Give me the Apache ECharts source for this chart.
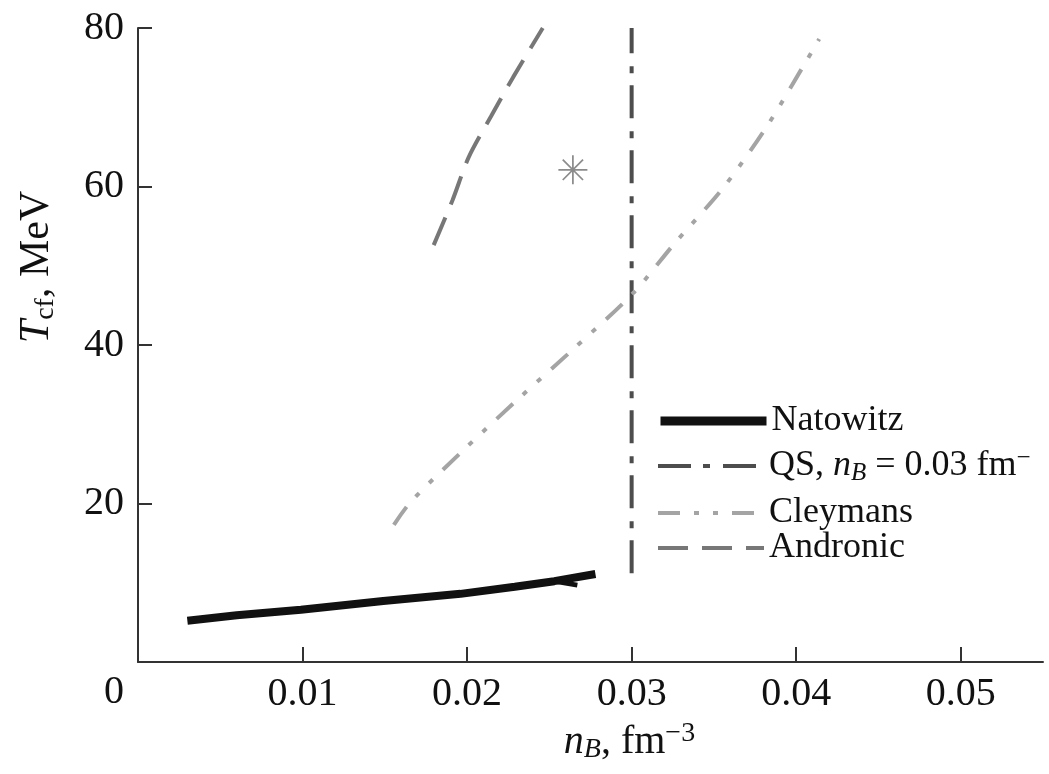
<!DOCTYPE html>
<html>
<head>
<meta charset="utf-8">
<script src="https://cdn.jsdelivr.net/npm/echarts@6/dist/echarts.min.js"></script>
<style>
html,body{margin:0;padding:0;background:#fff;}
#chart{width:1049px;height:774px;}
</style>
</head>
<body>
<div id="chart"></div>
<script>
// ---- data ----
var xTicks = [0.01, 0.02, 0.03, 0.04, 0.05];
var yTicks = [20, 40, 60, 80];
var natowitz = [[0.0030, 5.2], [0.0060, 5.9], [0.0099, 6.6], [0.0149, 7.7], [0.0196, 8.6], [0.0229, 9.5], [0.0253, 10.2], [0.0278, 11.1]];
var natowitzTail = [[0.0250, 10.3], [0.0267, 9.7]];
var qsLine = [[0.03, 11.2], [0.03, 80]];
var cleymans = [[0.01555, 17.3], [0.01657, 20.2], [0.01981, 26.8], [0.02306, 33.1], [0.02641, 39.4], [0.03007, 46.5], [0.0326, 52.8], [0.03555, 59.8], [0.03819, 67.5], [0.04052, 75.5], [0.0414, 78.6]];
var andronic = [[0.01797, 52.6], [0.01912, 58.3], [0.0201, 63.7], [0.02144, 68.8], [0.0228, 73.8], [0.0246, 80.0]];
var starPoint = [[0.02643, 62.1]];
var names = ['Natowitz', 'QS', 'Cleymans', 'Andronic'];

var serif = 'Liberation Serif';
var chart = echarts.init(document.getElementById('chart'));

var star = 'path://M47 0L53 0L53 100L47 100Z M0 47L100 47L100 53L0 53Z M12.9 17.1L17.1 12.9L87.1 82.9L82.9 87.1Z M82.9 12.9L87.1 17.1L17.1 87.1L12.9 82.9Z';

var richBase = {
  i: {fontFamily: serif, fontStyle: 'italic', fontSize: 36, color: '#111', lineHeight: 40},
  sub: {fontFamily: serif, fontStyle: 'italic', fontSize: 25, color: '#111', lineHeight: 25, verticalAlign: 'bottom'},
  sup: {fontFamily: serif, fontSize: 25, color: '#111', lineHeight: 25, verticalAlign: 'top'}
};

function legendFor(name, top, lineW) {
  return {
    data: [name],
    left: 656, top: top,
    padding: 0,
    itemWidth: 106, itemHeight: 12,
    itemGap: 5,
    selectedMode: false,
    lineStyle: {width: lineW},
    itemStyle: {opacity: 0},
    textStyle: {fontFamily: serif, fontSize: 36, color: '#111', lineHeight: 40, rich: richBase},
    formatter: function (n) {
      if (n === 'QS') return 'QS, {i|n}{sub|B} = 0.03 fm{sup|\u2212}';
      return n;
    }
  };
}

var option = {
  backgroundColor: '#fff',
  animation: false,
  grid: {left: 138, right: 6, top: 28, bottom: 112, containLabel: false},
  legend: [
    legendFor('Natowitz', 401, 9),
    legendFor('QS', 446, 4),
    legendFor('Cleymans', 493, 4),
    legendFor('Andronic', 528, 4)
  ],
  xAxis: {
    type: 'value', min: 0, max: 0.055,
    name: '{i|n}{sub|B}, fm{sup|\u22123}',
    nameLocation: 'middle', nameGap: 58,
    nameTextStyle: {
      fontFamily: serif, fontSize: 40, color: '#111', lineHeight: 44,
      padding: [0, 0, 0, 78],
      rich: {
        i: {fontFamily: serif, fontStyle: 'italic', fontSize: 40, color: '#111', lineHeight: 44},
        sub: {fontFamily: serif, fontStyle: 'italic', fontSize: 28, color: '#111', lineHeight: 28, verticalAlign: 'bottom'},
        sup: {fontFamily: serif, fontSize: 28, color: '#111', lineHeight: 28, verticalAlign: 'top'}
      }
    },
    axisLine: {show: true, lineStyle: {color: '#333', width: 2}},
    axisTick: {show: true, inside: true, length: 15, customValues: xTicks, lineStyle: {color: '#333', width: 2}},
    axisLabel: {customValues: xTicks, fontFamily: serif, fontSize: 40, color: '#111', margin: 12,
      formatter: function (v) { return v.toFixed(2); }},
    splitLine: {show: false}
  },
  yAxis: {
    type: 'value', min: 0, max: 80,
    name: '{i|T}{sub|cf}, MeV',
    nameLocation: 'middle', nameGap: 78, nameRotate: 90,
    nameTextStyle: {
      fontFamily: serif, fontSize: 42, color: '#111', lineHeight: 46,
      padding: [0, 0, 0, 156],
      rich: {
        i: {fontFamily: serif, fontStyle: 'italic', fontSize: 42, color: '#111', lineHeight: 46},
        sub: {fontFamily: serif, fontSize: 28, color: '#111', lineHeight: 28, verticalAlign: 'bottom'}
      }
    },
    axisLine: {show: true, lineStyle: {color: '#333', width: 2}},
    axisTick: {show: true, inside: true, length: 14, customValues: yTicks, lineStyle: {color: '#333', width: 2}},
    axisLabel: {customValues: yTicks, fontFamily: serif, fontSize: 40, color: '#111', margin: 14},
    splitLine: {show: false}
  },
  graphic: [{
    type: 'text', left: 104, top: 672,
    style: {text: '0', font: '40px "Liberation Serif"', fill: '#111'}
  }],
  series: [
    {name: 'Natowitz', type: 'line', data: natowitz, symbol: 'none', smooth: false,
      lineStyle: {color: '#111', width: 8}, itemStyle: {color: '#111'}, z: 5},
    {name: 'Natowitz', type: 'line', data: natowitzTail, symbol: 'none',
      lineStyle: {color: '#111', width: 5}, itemStyle: {color: '#111'}, z: 5},
    {name: 'QS', type: 'line', data: qsLine, symbol: 'none',
      lineStyle: {color: '#4d4d4d', width: 4, type: [33, 12, 7, 13]}, itemStyle: {color: '#4d4d4d'}},
    {name: 'Cleymans', type: 'line', data: cleymans, symbol: 'none', smooth: 0.3,
      lineStyle: {color: '#a4a4a4', width: 4, type: [22, 14, 5, 14, 5, 14]}, itemStyle: {color: '#a4a4a4'}},
    {name: 'Andronic', type: 'line', data: andronic, symbol: 'none', smooth: 0.3,
      lineStyle: {color: '#777', width: 4, type: [30, 14]}, itemStyle: {color: '#777'}},
    {name: 'point', type: 'scatter', data: starPoint, symbol: star, symbolSize: 29,
      itemStyle: {color: '#6e6e6e'}}
  ]
};
chart.setOption(option);
</script>
</body>
</html>
